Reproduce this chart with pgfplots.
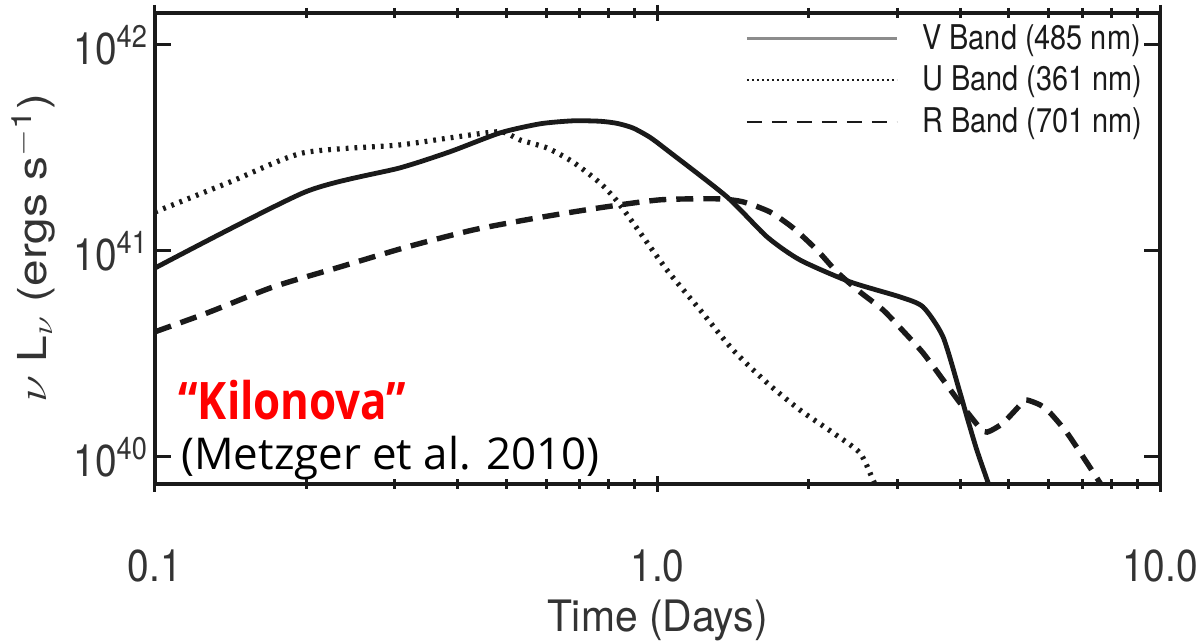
\documentclass[border=0pt]{standalone}
\usepackage{fontspec}
\setmainfont{TeX Gyre Heros}
\newfontfamily\annfont{Open Sans}
\usepackage{graphicx}
\usepackage{pgfplots}
\pgfplotsset{compat=1.18}
\newcommand{\vs}[1]{\scalebox{1}[1.15]{#1}}
\definecolor{ink}{HTML}{1A1A1A}
\definecolor{lab}{HTML}{333333}
\begin{document}
\begin{tikzpicture}
\begin{axis}[
  scale only axis, width=502.5bp, height=235.5bp,
  xmode=log, ymode=log,
  xmin=0.1, xmax=10, ymin=7.4e39, ymax=1.43e42,
  axis line style={line width=2bp, color=ink},
  xtick={0.1,1,10}, xticklabels={\vs{0.1},\vs{1.0},\vs{10.0}},
  ytick={1e40,1e41,1e42},
  yticklabels={\vs{10\textsuperscript{40}},\vs{10\textsuperscript{41}},\vs{10\textsuperscript{42}}},
  yminorticks=false,
  xtick align=center, ytick align=inside,
  major tick length=8bp, minor tick length=5bp,
  tick style={line width=1.5bp, color=ink},
  ticklabel style={font=\fontsize{19.5}{22}\selectfont, text=lab},
  xticklabel style={anchor=base, yshift=-45bp},
  xlabel={\scalebox{1}[1.06]{Time (Days)}},
  xlabel style={at={(axis description cs:0.5,0)}, anchor=base, yshift=-74bp, font=\fontsize{20.5}{23}\selectfont, text=lab},
  ylabel={\scalebox{1.2}[1]{$\nu$ L$_\nu$ (ergs s\textsuperscript{$-$1})}},
  ylabel style={at={(axis description cs:-0.1214,0.5)}, anchor=center, font=\fontsize{20}{22}\selectfont, text=lab},
  legend image code/.code={\draw[#1] (0bp,0bp) -- (75bp,0bp);},
  legend cell align=left,
  legend style={draw=none, fill=none, at={(rel axis cs:0.587,0.985)}, anchor=north west,
    font=\fontsize{14.5}{17}\selectfont, text=ink, row sep=3bp, inner sep=0pt,
    column sep=10bp},
]
\addlegendimage{color=black!45, line width=1.5bp}
\addlegendentry{\scalebox{1}[1.18]{V Band (485 nm)}}
\addlegendimage{color=ink, line width=0.9bp, dash pattern=on 0.9bp off 1.6bp}
\addlegendentry{\scalebox{1}[1.18]{U Band (361 nm)}}
\addlegendimage{color=ink, line width=0.8bp, dash pattern=on 7.5bp off 5bp}
\addlegendentry{\scalebox{1}[1.18]{R Band (701 nm)}}

% V band (solid)
\addplot[forget plot, color=ink, line width=2.4bp, smooth, tension=0.4] coordinates {
(0.1,8.26e40) (0.1988,1.93e41) (0.3073,2.53e41) (0.3865,3.03e41) (0.486,3.74e41) (0.584,4.14e41)
(0.679,4.28e41) (0.768,4.26e41) (0.831,4.16e41) (0.894,3.95e41) (0.966,3.56e41) (1.044,3.09e41)
(1.375,1.83e41) (1.652,1.17e41) (1.921,9.04e40) (2.416,7.08e40) (3.039,5.98e40)
(3.376,5.35e40) (3.70,3.83e40) (4.00,2.05e40) (4.13,1.56e40) (4.32,1.08e40)
(4.55,7.48e39) (4.62,6.6e39)
};
% U band (dotted)
\addplot[forget plot, color=ink, line width=2.6bp, dash pattern=on 1.4bp off 3.0bp, smooth, tension=0.4] coordinates {
(0.1,1.545e41) (0.141,2.16e41) (0.197,2.99e41) (0.3073,3.27e41) (0.3865,3.54e41)
(0.486,3.79e41) (0.532,3.46e41) (0.603,3.16e41) (0.679,2.70e41) (0.768,2.14e41)
(0.827,1.77e41) (0.894,1.37e41) (1.044,8.09e40) (1.215,5.18e40) (1.413,3.31e40)
(1.652,2.29e40) (1.921,1.69e40) (2.235,1.31e40) (2.529,1.045e40) (2.685,7.73e39)
(2.75,6.8e39)
};
% R band (dashed)
\addplot[forget plot, color=ink, line width=2.7bp, dash pattern=on 8.5bp off 5bp, smooth, tension=0.4] coordinates {
(0.1,4.05e40) (0.127,5.0e40) (0.1717,6.68e40) (0.2334,8.36e40) (0.3173,1.045e41)
(0.4295,1.264e41) (0.5755,1.446e41) (0.768,1.62e41) (1.012,1.77e41) (1.313,1.79e41)
(1.480,1.73e41) (1.675,1.545e41) (1.861,1.294e41) (2.077,1.01e41) (2.276,7.9e40)
(2.529,6.32e40) (2.811,5.17e40) (3.081,4.09e40) (3.376,3.2e40) (3.70,2.37e40)
(4.00,1.83e40) (4.385,1.38e40) (4.53,1.32e40) (4.87,1.46e40) (5.34,1.85e40)
(5.44,1.89e40) (5.77,1.79e40) (6.04,1.64e40) (6.53,1.31e40) (7.16,9.35e39)
(7.60,7.48e39) (7.8,6.8e39)
};

\node[anchor=base west, inner sep=0pt, text=red, font=\annfont\bfseries\fontsize{22}{26}\selectfont]
  at (rel axis cs:0.0229,0.1359) {\scalebox{1}[1.18]{“Kilonova”}};
\node[anchor=base west, inner sep=0pt, text=black, font=\annfont\fontsize{22}{26}\selectfont]
  at (rel axis cs:0.0259,0.0297) {(Metzger et al. 2010)};

\coordinate (A) at (rel axis cs:0,0);
\coordinate (B) at (rel axis cs:1,1);
\end{axis}
\pgfresetboundingbox
\path[use as bounding box] ([xshift=-77.5bp,yshift=-78.5bp]A) rectangle ([xshift=20.5bp,yshift=6.5bp]B);
\end{tikzpicture}
\end{document}
